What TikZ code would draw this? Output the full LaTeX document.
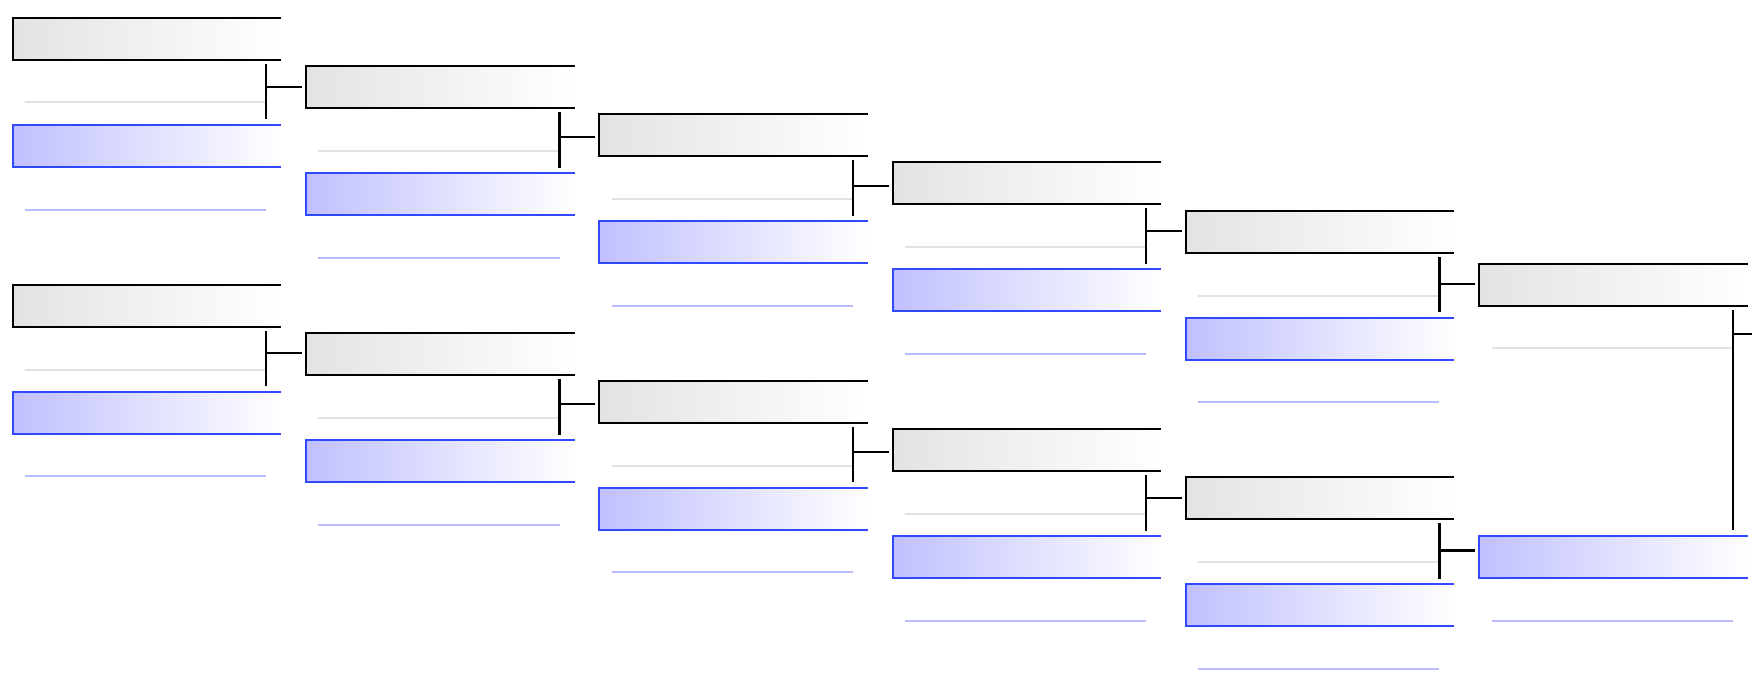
\documentclass[tikz,border=0pt]{standalone}
\definecolor{bbord}{RGB}{48,72,255}
\definecolor{gfill}{RGB}{227,227,227}
\definecolor{bfill}{RGB}{192,192,255}
\definecolor{gline}{RGB}{226,226,226}
\definecolor{bline}{RGB}{186,186,255}
\tikzset{
  slotbox/.style={minimum width=268.5pt, minimum height=42pt, inner sep=0pt, outer sep=0pt, anchor=north west, draw=none},
  grayslot/.style={slotbox, left color=gfill, right color=white},
  blueslot/.style={slotbox, left color=bfill, right color=white},
  grayedge/.style={draw=black, line width=2.2pt, line join=miter},
  blueedge/.style={draw=bbord, line width=2.2pt, line join=miter},
  grayrule/.style={draw=gline, line width=2pt},
  bluerule/.style={draw=bline, line width=2pt},
  bracket/.style={draw=black, line width=2.2pt},
}
\newcommand\mkslot[4]{%
  \node[#4slot] (#1) at (#2,#3) {};
  \draw[#4edge] (#1.north east) -- (#1.north west) -- (#1.south west) -- (#1.south east);
  \draw[#4rule] ([xshift=12.3pt,yshift=-42.5pt]#1.south west) -- ([xshift=253.5pt,yshift=-42.5pt]#1.south west);
}
\newcommand\mkmatch[5]{%
  \coordinate (#1top) at ([xshift=253.5pt,yshift=-4pt]#1.south west);
  \coordinate (#1bot) at ([xshift=253.5pt,yshift=5.5pt]#2.north west);
  \coordinate (#1join) at (#4,#5);
  \draw[bracket] (#1top) -- (#1bot);
  \draw[bracket, shorten >=4pt] (#1join) -- (#1join -| #3.west);
}
\begin{document}
\begin{tikzpicture}[x=1pt,y=-1pt]
\useasboundingbox (0,0) rectangle (1752,674);
% column 1
\mkslot{g1a}{12.7}{18}{gray}
\mkslot{b1a}{12.7}{125}{blue}
\mkslot{g1b}{12.7}{285}{gray}
\mkslot{b1b}{12.7}{391.7}{blue}
% column 2
\mkslot{g2a}{306}{66}{gray}
\mkslot{b2a}{306}{173}{blue}
\mkslot{g2b}{306}{333.3}{gray}
\mkslot{b2b}{306}{440}{blue}
% column 3
\mkslot{g3a}{599.3}{114.3}{gray}
\mkslot{b3a}{599.3}{221}{blue}
\mkslot{g3b}{599.3}{381}{gray}
\mkslot{b3b}{599.3}{487.7}{blue}
% column 4
\mkslot{g4a}{892.6}{162.3}{gray}
\mkslot{b4a}{892.6}{269.3}{blue}
\mkslot{g4b}{892.6}{429.3}{gray}
\mkslot{b4b}{892.6}{536}{blue}
% column 5
\mkslot{g5a}{1185.9}{211}{gray}
\mkslot{b5a}{1185.9}{317.7}{blue}
\mkslot{g5b}{1185.9}{477}{gray}
\mkslot{b5b}{1185.9}{584.3}{blue}
% column 6
\mkslot{g6}{1479.2}{263.7}{gray}
\mkslot{b6}{1479.2}{536}{blue}
% brackets
\mkmatch{g1a}{b1a}{g2a}{266.2}{87}
\mkmatch{g1b}{b1b}{g2b}{266.2}{353.3}
\mkmatch{g2a}{b2a}{g3a}{559.5}{137.3}
\mkmatch{g2b}{b2b}{g3b}{559.5}{404}
\mkmatch{g3a}{b3a}{g4a}{852.8}{185.7}
\mkmatch{g3b}{b3b}{g4b}{852.8}{452}
\mkmatch{g4a}{b4a}{g5a}{1146.1}{230.7}
\mkmatch{g4b}{b4b}{g5b}{1146.1}{497.7}
\mkmatch{g5a}{b5a}{g6}{1439.4}{284.3}
\mkmatch{g5b}{b5b}{b6}{1439.4}{550.5}
% final
\coordinate (g6top) at ([xshift=253.5pt,yshift=-4.3pt]g6.south west);
\coordinate (g6bot) at ([xshift=253.5pt,yshift=6pt]b6.north west);
\coordinate (g6join) at (1732.7,334.3);
\coordinate (out) at (1752,334.3);
\draw[bracket] (g6top) -- (g6bot);
\draw[bracket] (g6join) -- (out);
\end{tikzpicture}
\end{document}
